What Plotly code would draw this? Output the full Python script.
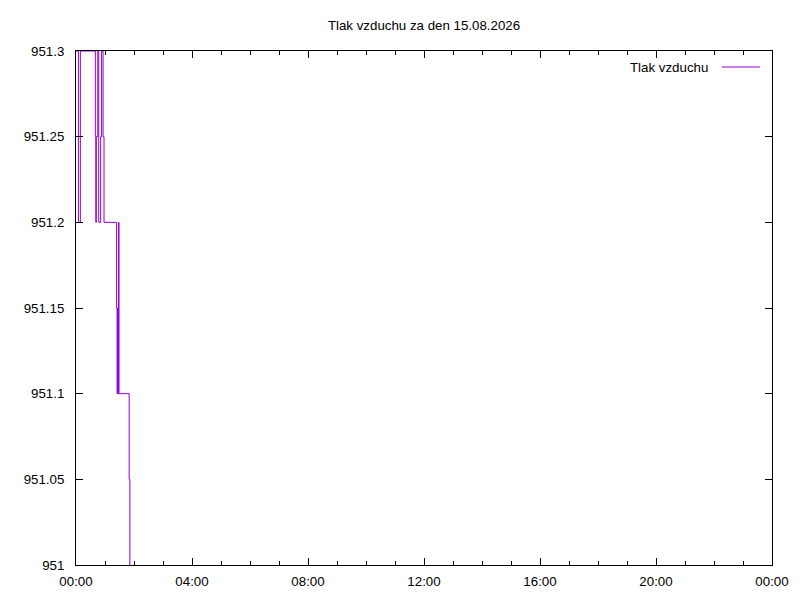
import plotly.graph_objects as go

# ── DATA ────────────────────────────────────────────────────────────────
day = '2026-08-15'
# minutes after midnight where the reading changes, and the reading (hPa)
minutes = [0, 5, 9, 40, 41, 42, 45, 47, 51, 53, 56, 58,
           84, 85, 86, 87, 88, 89, 110, 111.5]
pressure = [951.3, 951.2, 951.3, 951.25, 951.2, 951.25, 951.3, 951.2, 951.25, 951.3, 951.25, 951.2,
            951.15, 951.1, 951.15, 951.1, 951.2, 951.1, 951.05, 951.0]

y_ticks = [951.0, 951.05, 951.1, 951.15, 951.2, 951.25, 951.3]
y_labels = ['951', '951.05', '951.1', '951.15', '951.2', '951.25', '951.3']
x_labels = ['00:00', '04:00', '08:00', '12:00', '16:00', '20:00', '00:00']

times = [f'{day} {int(m // 60):02d}:{int(m % 60):02d}:{int(round((m % 1) * 60)):02d}' for m in minutes]
x_ticks = [f'{day} {h:02d}:00' for h in range(0, 24, 4)] + ['2026-08-16 00:00']

purple = '#9400D3'
font = dict(family='Liberation Sans, Arial, sans-serif', size=13.3, color='black')

fig = go.Figure()
fig.add_trace(go.Scatter(
    x=times, y=pressure, mode='lines', line_shape='hv',
    line=dict(color=purple, width=1), name='Tlak vzduchu', showlegend=False
))

axis_common = dict(
    showgrid=False, zeroline=False, showline=True, linecolor='black', linewidth=1,
    mirror='ticks', ticks='inside', ticklen=7, tickcolor='black', tickwidth=1,
    tickfont=font
)

fig.update_xaxes(
    type='date', range=[f'{day} 00:00', '2026-08-16 00:00'],
    tickvals=x_ticks, ticktext=x_labels,
    minor=dict(dtick=3600000, ticks='inside', ticklen=4, tickcolor='black', showgrid=False),
    ticklabelstandoff=4,
    **axis_common
)
fig.update_yaxes(
    range=[951.0, 951.3], tickvals=y_ticks, ticktext=y_labels,
    ticklabelstandoff=8,
    **axis_common
)

# gnuplot-style key: text on the left, line sample on the right
key_y = 1 - (67 - 51) / 514
fig.add_annotation(xref='paper', yref='paper', x=(710 - 76) / 696, y=key_y,
                   text='Tlak vzduchu', showarrow=False, xanchor='right', yanchor='middle', font=font)
fig.add_shape(type='line', xref='paper', yref='paper',
              x0=(722 - 76) / 696, x1=(760 - 76) / 696, y0=key_y, y1=key_y,
              line=dict(color=purple, width=1))

# the page body adds an 8px offset, so margins are shifted to keep the plot box in place
fig.update_layout(
    width=800, height=600,
    margin=dict(l=68, r=36, t=43, b=43),
    paper_bgcolor='white', plot_bgcolor='white',
    title=dict(text='Tlak vzduchu za den 15.08.2026', x=0.5, xref='paper',
               y=1 - 17 / 600, yanchor='middle', font=font),
    font=font
)

fig.write_html('out.html')
